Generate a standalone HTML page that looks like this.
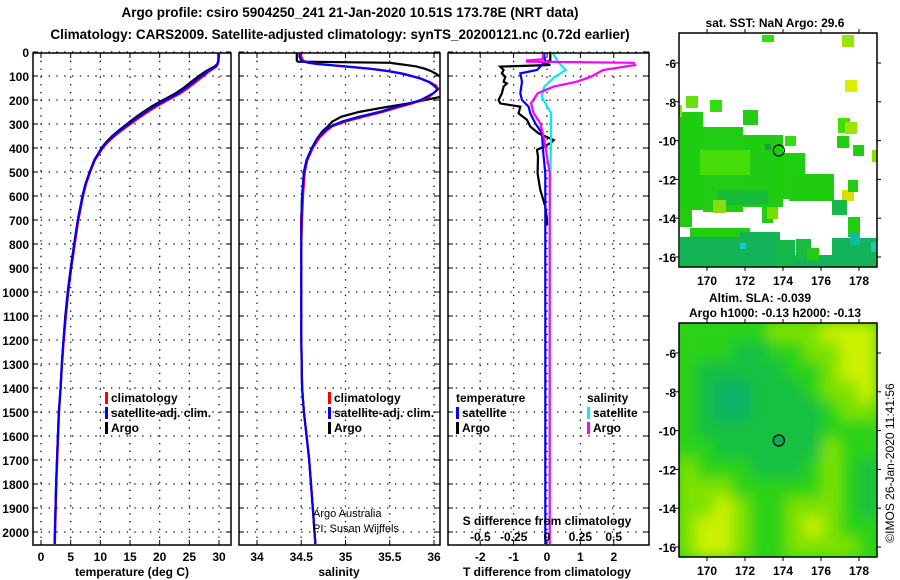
<!DOCTYPE html>
<html><head><meta charset="utf-8"><style>
body{margin:0;background:#fff;}
svg{display:block;font-family:"Liberation Sans",sans-serif;}
text{fill:#000;}
</style></head><body>
<svg id="c" width="900" height="580" viewBox="0 0 900 580">
<text x="350" y="17" text-anchor="middle" font-size="13.5" font-weight="bold">Argo profile: csiro 5904250_241 21-Jan-2020 10.51S 173.78E (NRT data)</text>
<text x="340" y="39" text-anchor="middle" font-size="13.5" font-weight="bold">Climatology: CARS2009. Satellite-adjusted climatology: synTS_20200121.nc (0.72d earlier)</text>
</svg>
<script>
// ---- data ----
const tDepth=[0,10,20,30,40,50,60,70,80,90,100,125,150,175,200,225,250,275,300,325,350,375,400,450,500,550,600,700,800,900,1000,1100,1200,1300,1400,1500,1600,1700,1800,1900,2000,2050];
const tArgo=[29.9,29.9,29.9,29.9,29.85,29.7,29.3,28.5,27.8,27.2,26.6,25.3,24.0,22.5,20.6,18.8,17.2,15.8,14.5,13.2,12.0,11.0,10.2,9.0,8.2,7.5,7.0,6.2,5.6,5.0,4.5,4.1,3.8,3.5,3.3,3.0,2.85,2.7,2.55,2.45,2.35,2.3];
const tClim=[30.0,30.0,30.0,29.95,29.9,29.8,29.6,29.0,28.4,27.9,27.4,26.1,24.8,23.3,21.4,19.6,18.0,16.5,15.1,13.7,12.4,11.3,10.4,9.1,8.3,7.6,7.1,6.3,5.7,5.1,4.6,4.2,3.85,3.55,3.3,3.05,2.9,2.75,2.6,2.5,2.4,2.35];
const tSat=[29.95,29.95,29.95,29.9,29.85,29.75,29.45,28.8,28.1,27.6,27.0,25.7,24.4,22.9,21.0,19.2,17.6,16.1,14.8,13.4,12.2,11.1,10.3,9.0,8.2,7.5,7.0,6.2,5.6,5.05,4.55,4.15,3.8,3.5,3.3,3.0,2.85,2.7,2.55,2.45,2.35,2.3];
const sDepth=[0,20,35,40,45,50,55,60,70,80,90,100,110,125,140,155,170,185,200,215,230,250,270,290,310,330,360,400,450,500,600,700,800,1000,1200,1400,1500,1600,1700,1800,1900,2000,2050];
const sClim=[34.5,34.5,34.52,34.55,34.6,34.7,34.85,35.0,35.3,35.5,35.65,35.75,35.85,35.95,36.02,36.05,36.0,35.95,35.87,35.75,35.6,35.42,35.2,35.0,34.85,34.78,34.7,34.63,34.57,34.54,34.52,34.51,34.5,34.5,34.5,34.51,34.53,34.56,34.59,34.61,34.63,34.65,34.66];
const sSat=[34.48,34.48,34.5,34.53,34.58,34.68,34.83,34.98,35.28,35.48,35.63,35.74,35.84,35.94,36.0,36.04,36.0,35.93,35.85,35.72,35.56,35.38,35.15,34.96,34.83,34.76,34.68,34.62,34.56,34.53,34.51,34.5,34.5,34.5,34.5,34.51,34.53,34.56,34.59,34.61,34.63,34.65,34.66];
const sArgo=[34.45,34.45,34.45,34.46,35.5,35.6,35.7,35.8,35.9,35.97,36.02,36.06,36.1,36.15,36.2,36.2,36.15,36.1,35.9,35.7,35.45,35.15,34.95,34.85,34.8,34.74,34.68,34.62,34.56,34.53,34.51,34.5,34.5,34.5,34.5,34.51,34.53,34.56,34.59,34.61,34.63,34.65,34.66];
const dTArgoDepth=[0,35,45,54,61,75,89,103,124,131,144,172,200,214,228,256,283,311,339,367,380,394,408,436,506,575,644,700,720];
const dTArgo=[0.1,0.1,-0.1,0.1,-1.4,-1.3,-1.35,-1.25,-1.3,-1.2,-1.3,-1.35,-1.45,-1.4,-0.8,-0.85,-0.6,-0.5,-0.25,0.2,0.1,-0.1,-0.3,-0.27,-0.28,-0.2,-0.05,0,0];
const dTSatDepth=[0,40,75,89,124,172,200,228,256,297,339,408,506,2050];
const dTSat=[-0.1,-0.05,-0.3,-0.8,-0.75,-0.8,-0.75,-0.55,-0.5,-0.35,-0.15,-0.12,-0.05,-0.05];
const dSArgoDepth=[0,30,35,40,45,54,75,103,124,144,172,214,256,297,367,506,2050];
const dSArgo=[-0.03,-0.03,-0.15,-0.15,0.65,0.66,0.42,0.33,0.22,0.05,-0.07,-0.12,-0.1,-0.05,-0.02,0.02,0.02];
const dSSatDepth=[0,40,75,103,144,186,256,367,700,2050];
const dSSat=[0.04,0.08,0.14,0.06,-0.02,-0.04,0.03,0.03,0.02,0.02];
const depthTicks=[0,100,200,300,400,500,600,700,800,900,1000,1100,1200,1300,1400,1500,1600,1700,1800,1900,2000];
const tTicks=[0,5,10,15,20,25,30];
const sTicks=[34,34.5,35,35.5,36];
const sTickLabels=["34","34.5","35","35.5","36"];
const dTTicks=[-2,-1,0,1,2];
const dSTicks=[-0.5,-0.25,0,0.25,0.5];
const dSTickLabels=["-0.5","-0.25","0","0.25","0.5"];
const mapLonTicks=[170,172,174,176,178];
const mapLatTicks=[-6,-8,-10,-12,-14,-16];
const slaGrid=[
[2,2,2,2,2,3,3,3,4,4,4],
[2,2,2,1,1,2,2,3,3,4,4],
[2,1,1,1,1,1,2,2,3,4,4],
[2,1,0,0,1,1,1,2,3,3,4],
[2,1,0,0,1,1,1,1,2,3,3],
[2,1,1,1,1,1,1,1,2,2,2],
[2,2,1,1,1,1,1,1,3,2,2],
[3,2,2,2,1,1,1,2,3,2,1],
[3,3,3,2,2,2,2,2,3,2,1],
[3,3,4,3,2,2,3,3,3,2,1],
[3,4,4,3,2,2,3,4,3,2,2],
[3,4,4,3,2,2,3,3,3,3,2]];
const argoLon=173.78, argoLat=-10.51;

const NS="http://www.w3.org/2000/svg";
const svg=document.getElementById('c');
function el(tag,attrs,parent){const e=document.createElementNS(NS,tag);for(const k in attrs)e.setAttribute(k,attrs[k]);(parent||svg).appendChild(e);return e;}
function txt(x,y,s,size,anchor,parent,weight){const t=el('text',{x:x,y:y,'font-size':size,'text-anchor':anchor||'start','font-weight':weight||'bold'},parent);t.textContent=s;return t;}

const Y0=52, YK=0.24, TOP=53, BOT=545;
const yD=d=>Y0+d*YK;
const panels=[
 {x0:33,x1:231,name:'temperature-panel'},
 {x0:239,x1:440,name:'salinity-panel'},
 {x0:448,x1:649,name:'difference-panel'}];
const xT=v=>41+v*(219-41)/30;
const xS=v=>257+(v-34)*(434-257)/2;
const xDT=v=>547+v*33.4;
const xDS=v=>547+v*133.4;

panels.forEach((p,i)=>{
  const g=el('g',{});
  
  
  const cp=el('clipPath',{id:'cp'+i});
  el('rect',{x:p.x0,y:TOP,width:p.x1-p.x0,height:BOT-TOP},cp);
  p.g=g;
  // horizontal grid
  depthTicks.forEach(d=>{
    el('line',{x1:p.x0,x2:p.x1,y1:yD(d),y2:yD(d),stroke:'#000','stroke-width':1.3,'stroke-dasharray':'1.3,6.5'},g);
    el('line',{x1:p.x0,x2:p.x0+5,y1:yD(d),y2:yD(d),stroke:'#000','stroke-width':1},g);
    el('line',{x1:p.x1-5,x2:p.x1,y1:yD(d),y2:yD(d),stroke:'#000','stroke-width':1},g);
  });
});
// y labels
depthTicks.forEach(d=>{const t=txt(29,yD(d)+5,String(d),12,'end',panels[0].g);});
function vgrid(p,ticks,xf){ticks.forEach(v=>{const x=xf(v);
  el('line',{x1:x,x2:x,y1:TOP,y2:BOT,stroke:'#000','stroke-width':1.3,'stroke-dasharray':'1.3,6.5'},p.g);
  el('line',{x1:x,x2:x,y1:BOT-5,y2:BOT,stroke:'#000'},p.g);
  el('line',{x1:x,x2:x,y1:TOP,y2:TOP+5,stroke:'#000'},p.g);});}
vgrid(panels[0],tTicks,xT);
vgrid(panels[1],sTicks,xS);
vgrid(panels[2],dTTicks,xDT);
tTicks.forEach(v=>txt(xT(v),561,String(v),12,'middle',panels[0].g));
sTicks.forEach((v,i)=>txt(xS(v),561,sTickLabels[i],12,'middle',panels[1].g));
dTTicks.forEach(v=>txt(xDT(v),561,String(v),12,'middle',panels[2].g));
txt(132,576,'temperature (deg C)',12,'middle',panels[0].g);
txt(339,576,'salinity',12,'middle',panels[1].g);
txt(547,576,'T difference from climatology',12,'middle',panels[2].g);

function line(p,idx,depths,vals,xf,color,name){
  const pts=depths.map((d,i)=>xf(vals[i]).toFixed(1)+','+yD(d).toFixed(1)).join(' ');
  const l=el('polyline',{points:pts,fill:'none',stroke:color,'stroke-width':2.2,'clip-path':'url(#cp'+idx+')'},p.g);
  
  
}
line(panels[0],0,tDepth,tArgo,xT,'#000','temp-argo-line');
line(panels[0],0,tDepth,tClim,xT,'#f00','temp-climatology-line');
line(panels[0],0,tDepth,tSat,xT,'#00f','temp-satellite-line');
line(panels[1],1,sDepth,sArgo,xS,'#000','salinity-argo-line');
line(panels[1],1,sDepth,sClim,xS,'#f00','salinity-climatology-line');
line(panels[1],1,sDepth,sSat,xS,'#00f','salinity-satellite-line');
line(panels[2],2,dTArgoDepth,dTArgo,xDT,'#000','tdiff-argo-line');
line(panels[2],2,dTSatDepth,dTSat,xDT,'#00f','tdiff-satellite-line');
line(panels[2],2,dSSatDepth,dSSat,xDS,'#0ee','sdiff-satellite-line');
line(panels[2],2,dSArgoDepth,dSArgo,xDS,'#f0f','sdiff-argo-line');

// S ticks inside diff panel
dSTicks.forEach((v,i)=>txt(xDS(v),541,dSTickLabels[i],12,'middle',panels[2].g));
txt(547,525,'S difference from climatology',12,'middle',panels[2].g);

panels.forEach(p=>{el('rect',{x:p.x0,y:TOP,width:p.x1-p.x0,height:BOT-TOP,fill:'none',stroke:'#000','stroke-width':1.5},p.g);});

function legend(x,y,entries,parent,nm){
  const g=el('g',{},parent);
  
  
  entries.forEach((e,i)=>{
    if(e[1])el('rect',{x:x,y:y+i*15-10,width:3,height:12,fill:e[1]},g);
    txt(x+(e[1]?6:0),y+i*15,e[0],12,'start',g);
  });
}
legend(105,402,[['climatology','#f00'],['satellite-adj. clim.','#00f'],['Argo','#000']],panels[0].g,'temp-legend');
legend(328,402,[['climatology','#f00'],['satellite-adj. clim.','#00f'],['Argo','#000']],panels[1].g,'salinity-legend');
legend(456,402,[['temperature',null],['satellite','#00f'],['Argo','#000']],panels[2].g,'tdiff-legend');
legend(587,402,[['salinity',null],['satellite','#0ee'],['Argo','#f0f']],panels[2].g,'sdiff-legend');
const a1=txt(313,517,'Argo Australia',11,'start',panels[1].g,'normal');a1.setAttribute('fill','#444');
const a2=txt(313,532,'PI: Susan Wijffels',11,'start',panels[1].g,'normal');a2.setAttribute('fill','#444');

// ---- maps ----
const MX0=679,MX1=877;
const mx=lon=>707+(lon-170)*19;
function makeMap(y0,name){
  const my=lat=>y0+30+(-6-lat)*19.4;
  const g=el('g',{});
  
  
  const cp=el('clipPath',{id:'cp'+name});
  el('rect',{x:MX0,y:y0,width:MX1-MX0,height:234},cp);
  return {g:g,my:my,y0:y0,clip:'url(#cp'+name+')'};
}
function mapAxes(m){
  el('rect',{x:MX0,y:m.y0,width:MX1-MX0,height:234,fill:'none',stroke:'#000','stroke-width':1.5},m.g);
  mapLonTicks.forEach(l=>{const x=mx(l);
    el('line',{x1:x,x2:x,y1:m.y0-4,y2:m.y0,stroke:'#000'},m.g);
    el('line',{x1:x,x2:x,y1:m.y0+234,y2:m.y0+238,stroke:'#000'},m.g);
    txt(x,m.y0+252,String(l),12,'middle',m.g);});
  mapLatTicks.forEach(l=>{const y=m.my(l);
    el('line',{x1:MX0-4,x2:MX0,y1:y,y2:y,stroke:'#000'},m.g);
    el('line',{x1:MX1,x2:MX1+4,y1:y,y2:y,stroke:'#000'},m.g);
    txt(MX0-3,y+5,String(l),12,'end',m.g);});
  const c=el('circle',{cx:mx(argoLon),cy:m.my(argoLat),r:5.5,fill:'none',stroke:'#000','stroke-width':1.2},m.g);
  
  
}
// SST map
const sst=makeMap(33,'sst-map');
txt(775,27,'sat. SST: NaN Argo: 29.6',12,'middle',sst.g);
const sg=el('g',{'clip-path':sst.clip},sst.g);
[[680,143,34,30,'#22d011'],[680,127,20,17,'#33d511'],[680,112,23,98,'#1ecc12'],[703,127,40,85,'#22cc14'],[743,135,40,72,'#20cb14'],[773,153,10,45,'#1ecc10'],[782,153,23,46,'#1fce12'],[789,174,45,27,'#20cc10'],[700,150,50,25,'#44dd0a'],[718,190,50,15,'#17bb3a'],[743,110,15,15,'#22cc11'],[710,100,12,12,'#33dd11'],[686,96,12,12,'#66e10a'],[785,136,11,10,'#33dd11'],[765,144,6,6,'#1c9f3a'],[837,136,12,12,'#22cc11'],[853,145,11,11,'#22cc11'],[872,150,5,12,'#88e000'],[838,118,12,15,'#44dd0a'],[845,122,12,12,'#99e400'],[845,80,12,12,'#dded00'],[842,190,12,11,'#dddd00'],[848,180,10,12,'#22cc11'],[832,200,15,15,'#16b84a'],[762,207,11,16,'#22cc11'],[767,207,11,12,'#77dd00'],[713,200,13,13,'#88dd11'],[680,210,12,17,'#22cc11'],[762,35,12,7,'#33dd11'],[842,35,12,12,'#99e400'],[679,105,3,12,'#88e000'],
 [690,228,60,10,'#22cc11'],[680,237,80,30,'#14b455'],[740,232,40,35,'#13b35a'],[773,240,22,27,'#16b84a'],[795,255,37,12,'#13b35a'],[796,239,15,20,'#18bc40'],[807,248,12,12,'#22cc11'],[832,238,45,29,'#13b35a'],[848,217,12,20,'#22cc11'],[850,233,10,12,'#11bbaa'],[871,242,6,10,'#11ccbb'],[740,243,6,6,'#11cccc']
].forEach((r,i)=>{const q=el('rect',{x:r[0],y:r[1],width:r[2],height:r[3],fill:r[4]},sg);});
mapAxes(sst);
// SLA map
const sla=makeMap(323,'sla-map');
txt(760,302,'Altim. SLA: -0.039',12,'middle',sla.g);
txt(775,317,'Argo h1000: -0.13 h2000: -0.13',12,'middle',sla.g);
const pal=['#08b268','#12c040','#2ad216','#7ee204','#ccf000'];
const flt=el('filter',{id:'blur',x:'-10%',y:'-10%',width:'120%',height:'120%'});
el('feGaussianBlur',{stdDeviation:7},flt);
const lg=el('g',{'clip-path':sla.clip},sla.g);
el('rect',{x:MX0,y:323,width:198,height:234,fill:'#2ad216'},lg);
const lgi=el('g',{filter:'url(#blur)'},lg);
const cw=198/11, ch=234/12;
slaGrid.forEach((row,r)=>row.forEach((v,c)=>{
  el('rect',{x:MX0+c*cw-1,y:323+r*ch-1,width:cw+2,height:ch+2,fill:pal[v]},lgi);
}));
mapAxes(sla);
el('circle',{cx:mx(argoLon),cy:sla.my(argoLat),r:5,fill:'#11aa55',stroke:'none'},sla.g);
const ci=el('circle',{cx:mx(argoLon),cy:sla.my(argoLat),r:5.5,fill:'none',stroke:'#000','stroke-width':1.2},sla.g);
const imos=el('text',{x:0,y:0,'font-size':12,'text-anchor':'middle',transform:'translate(894,463) rotate(-90)'});
imos.textContent='©IMOS 26-Jan-2020 11:41:56';


</script>
</body></html>
